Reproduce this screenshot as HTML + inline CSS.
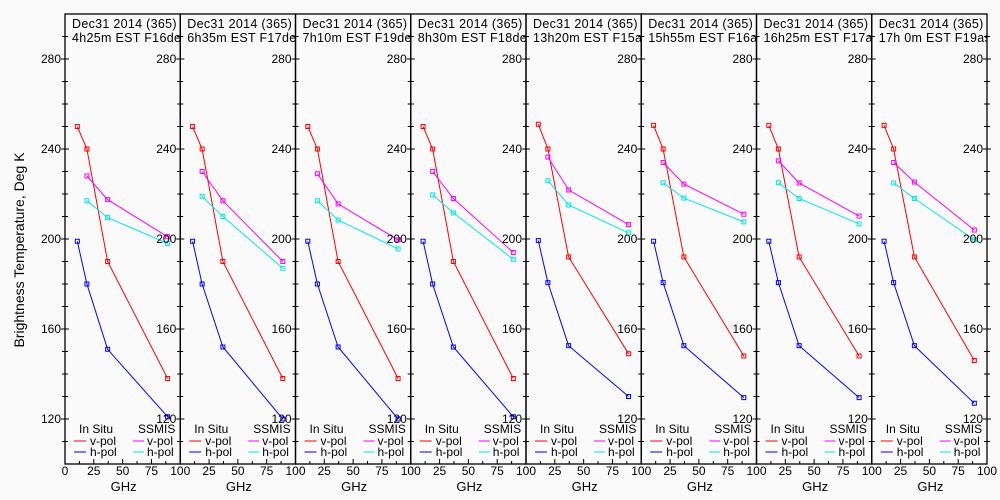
<!DOCTYPE html>
<html><head><meta charset="utf-8"><style>
html,body{margin:0;padding:0;background:#fafafa;}
svg{display:block;font-family:"Liberation Sans",sans-serif;}
</style></head><body>
<svg id="chart" width="1000" height="500" viewBox="0 0 1000 500">
<rect x="0" y="0" width="1000" height="500" fill="#fafafa"/>
<text x="24" y="250" transform="rotate(-90 24 250)" text-anchor="middle" font-size="14" fill="#000">Brightness Temperature, Deg K</text>
</svg>
<script>
const panelTimes = ["4h25m EST F16des","6h35m EST F17des","7h10m EST F19des","8h30m EST F18des","13h20m EST F15asc","15h55m EST F16asc","16h25m EST F17asc","17h 0m EST F19asc"];
const insituFreqs = [10.7, 19, 37, 89];
const ssmisFreqs = [19, 37, 89];
const insituV = [[250,240,190,138],[250,240,190,138],[250,240,190,138],[250,240,190,138],[251,240,192,149],[250.5,240,192,148],[250.5,240,192,148],[250.5,240,192,146]];
const insituH = [[199,180,151,121],[199,180,152,120],[199,180,152,120],[199,180,152,121],[199.3,180.6,152.6,130],[199,180.6,152.6,129.5],[199,180.6,152.6,129.5],[199,180.6,152.6,127]];
const ssmisV = [[228,217.5,201],[230,217,190],[229,215.6,199.6],[230,218,194],[236.4,221.8,206.4],[234,224.4,211],[234.7,224.9,210.2],[234,225.3,204]];
const ssmisH = [[217,209.5,198],[219,210,187],[217,208.4,195.6],[219.6,211.6,191],[225.9,215.1,202.7],[225,218.2,207.6],[225,218,206.7],[224.9,218,199.6]];
const yTicks = [120,160,200,240,280];
const xTicks = [0,25,50,75,100];

const NS="http://www.w3.org/2000/svg";
const svg=document.getElementById('chart');
const X0=65, PW=115.25, TOP=14, BOT=464;
const yS=v=>BOT-(v-100)/200*(BOT-TOP);
const xS=(p,f)=>X0+p*PW+f/100*PW;
function mk(tag,attrs,parent){const e=document.createElementNS(NS,tag);for(const k in attrs)e.setAttribute(k,attrs[k]);(parent||svg).appendChild(e);return e;}

for(let p=0;p<8;p++){
  const g=mk('g',{});
  
  
  const fr=mk('rect',{x:X0+p*PW,y:TOP,width:PW,height:BOT-TOP,fill:'none',stroke:'#000','stroke-width':1.3},g);
  
  
  const cp=mk('clipPath',{id:'cp'+p},g);
  mk('rect',{x:X0+p*PW,y:TOP,width:PW,height:50},cp);
  const h1=mk('text',{x:X0+p*PW+7,y:28,'font-size':12.5,'letter-spacing':0.3,'clip-path':'url(#cp'+p+')'},g);
  h1.textContent='Dec31 2014 (365)';
  
  
  const h2=mk('text',{x:X0+p*PW+7,y:42,'font-size':12.5,'letter-spacing':0.3,'clip-path':'url(#cp'+p+')'},g);
  h2.textContent=panelTimes[p];
  
  
  for(let f=12.5;f<100;f+=12.5){
    const len=(f%25===0)?5:3;
    mk('line',{x1:xS(p,f),x2:xS(p,f),y1:BOT,y2:BOT-len,stroke:'#000'},g);
  }
  xTicks.forEach(t=>{
    if(p>0&&t===0)return;
    const tx=mk('text',{x:xS(p,t),y:475,'font-size':12,'text-anchor':'middle'},g);
    tx.textContent=t;
    
    
  });
  const gl=mk('text',{x:X0+p*PW+PW/2+1,y:491,'font-size':13,'text-anchor':'middle'},g);
  gl.textContent='GHz';
  
  
  const series=[[insituFreqs,insituV[p],'#ff0000','insitu-v-pol'],[insituFreqs,insituH[p],'#0000ff','insitu-h-pol'],[ssmisFreqs,ssmisV[p],'#ff00ff','ssmis-v-pol'],[ssmisFreqs,ssmisH[p],'#00e8e8','ssmis-h-pol']];
  series.forEach(([fx,vals,col,name])=>{
    const pts=vals.map((v,i)=>xS(p,fx[i]).toFixed(1)+','+yS(v).toFixed(1)).join(' ');
    const pl=mk('polyline',{points:pts,fill:'none',stroke:col,'stroke-width':1},g);
    
    
    vals.forEach((v,i)=>{
      const r=mk('rect',{x:xS(p,fx[i])-2,y:yS(v)-2,width:4,height:4,fill:'none',stroke:col,'stroke-width':1},g);
      
      
    });
  });
  const bx=X0+p*PW;
  const lg=mk('g',{},g);
  
  
  const t1=mk('text',{x:bx+14,y:433,'font-size':12},lg);t1.textContent='In Situ';
  const t2=mk('text',{x:bx+73,y:433,'font-size':12},lg);t2.textContent='SSMIS';
  [['v-pol','#ff0000','#ff00ff',445],['h-pol','#0000ff','#00e8e8',456]].forEach(([lab,c1,c2,yy])=>{
    mk('line',{x1:bx+9,x2:bx+21,y1:yy-4,y2:yy-4,stroke:c1},lg);
    const a=mk('text',{x:bx+25,y:yy,'font-size':12},lg);a.textContent=lab;
    mk('line',{x1:bx+68,x2:bx+79,y1:yy-4,y2:yy-4,stroke:c2},lg);
    const b=mk('text',{x:bx+82,y:yy,'font-size':12},lg);b.textContent=lab;
  });
}
for(let b=0;b<=8;b++){
  const bx=X0+b*PW;
  for(let v=110;v<=290;v+=10){
    const major=(v%40===0);
    mk('line',{x1:bx-(major?4:3),x2:bx+(major?4:3),y1:yS(v),y2:yS(v),stroke:'#000'});
  }
  yTicks.forEach(v=>{
    const t=mk('text',{x:bx-4,y:yS(v)+4,'font-size':12,'text-anchor':'end'});
    t.textContent=v;
    
    
  });
}
</script>
</body></html>
